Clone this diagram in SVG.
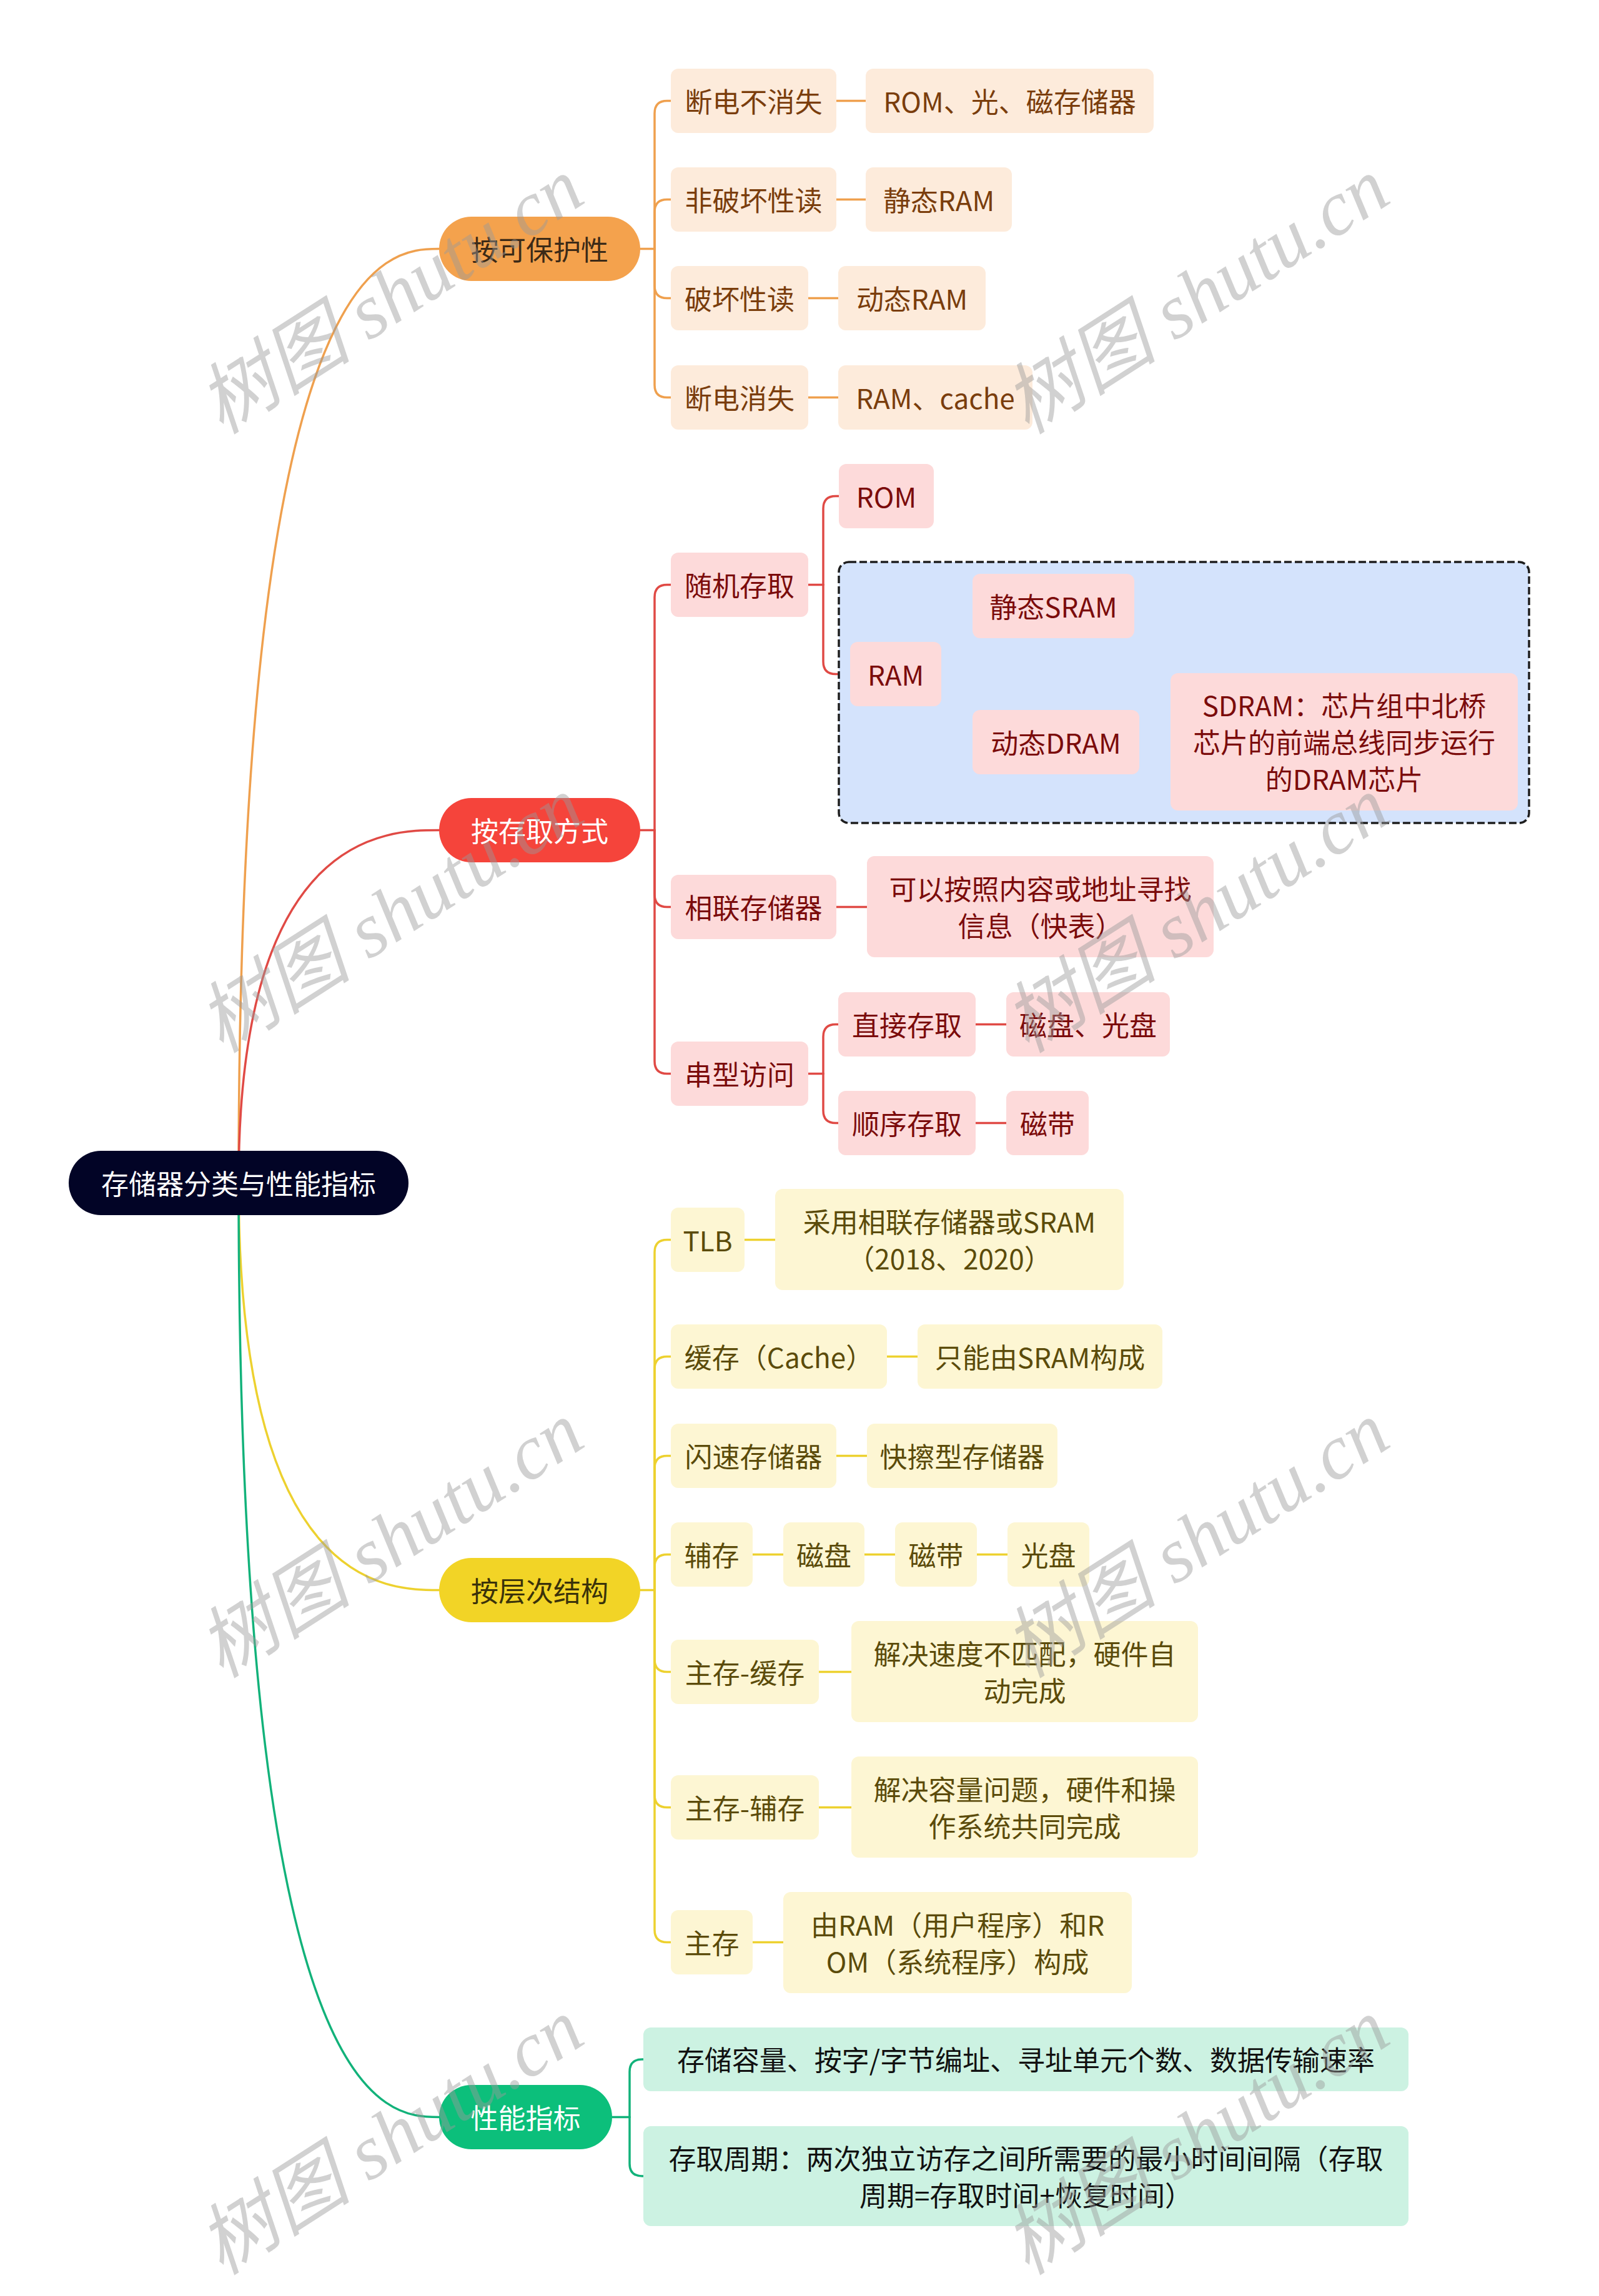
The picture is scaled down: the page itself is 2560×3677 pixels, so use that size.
<svg xmlns="http://www.w3.org/2000/svg" width="2560" height="3677" viewBox="0 0 2560 3677">
<style>
text{font-family:"Noto Sans CJK SC","Noto Sans",sans-serif;font-size:44px;text-anchor:middle;dominant-baseline:central}
.c{fill:none;stroke-width:3.5;stroke-linecap:round}
.lo{stroke:#EFA04E}.lr{stroke:#E04A45}.ly{stroke:#EDD12F}.lg{stroke:#12B27A}
.no{fill:#FDEBDB}.nr{fill:#FDDADA}.ny{fill:#FDF6D3}.ng{fill:#CCF2E2}
.to{fill:#7A3D0C}.tr{fill:#7B0B0B}.ty{fill:#5B4B0A}.tg{fill:#111111}
.wm{font-family:"Liberation Serif","Noto Sans CJK SC",serif;font-style:italic;font-size:124px;text-anchor:start;dominant-baseline:auto;fill:#9a9a9a;opacity:0.45}
</style>
<g id="connectors">
<path class="c lo" d="M382,1894 C382,398.5 620,398.5 703,398.5"/>
<path class="c lr" d="M382,1894 C382,1329.5 620,1329.5 703,1329.5"/>
<path class="c ly" d="M382,1894 C382,2546.5 620,2546.5 703,2546.5"/>
<path class="c lg" d="M382,1894 C382,3390.5 620,3390.5 703,3390.5"/>
<path class="c lo" d="M1025,398.5 H1048"/>
<path class="c lo" d="M1048,398.5 V181.5 Q1048,161.5 1068,161.5 H1074"/>
<path class="c lo" d="M1048,398.5 V339.5 Q1048,319.5 1068,319.5 H1074"/>
<path class="c lo" d="M1048,398.5 V457.5 Q1048,477.5 1068,477.5 H1074"/>
<path class="c lo" d="M1048,398.5 V616.5 Q1048,636.5 1068,636.5 H1074"/>
<path class="c lo" d="M1339,161.5 H1386 M1339,319.5 H1386 M1294,477.5 H1342 M1294,636.5 H1342"/>
<path class="c lr" d="M1025,1329.5 H1048"/>
<path class="c lr" d="M1048,1329.5 V956.5 Q1048,936.5 1068,936.5 H1074"/>
<path class="c lr" d="M1048,1329.5 V1432.5 Q1048,1452.5 1068,1452.5 H1074"/>
<path class="c lr" d="M1048,1329.5 V1699.5 Q1048,1719.5 1068,1719.5 H1074"/>
<path class="c lr" d="M1294,936.5 H1318"/>
<path class="c lr" d="M1318,936.5 V814.5 Q1318,794.5 1338,794.5 H1343"/>
<path class="c lr" d="M1318,936.5 V1059.5 Q1318,1079.5 1338,1079.5 H1361"/>
<path class="c lr" d="M1507,1079.5 H1531"/>
<path class="c lr" d="M1531,1079.5 V990.5 Q1531,970.5 1551,970.5 H1557"/>
<path class="c lr" d="M1531,1079.5 V1168.5 Q1531,1188.5 1551,1188.5 H1557"/>
<path class="c lr" d="M1824,1188.5 H1874 M1339,1452.5 H1388"/>
<path class="c lr" d="M1294,1719.5 H1318"/>
<path class="c lr" d="M1318,1719.5 V1660.5 Q1318,1640.5 1338,1640.5 H1342"/>
<path class="c lr" d="M1318,1719.5 V1778.5 Q1318,1798.5 1338,1798.5 H1342"/>
<path class="c lr" d="M1562,1640.5 H1611 M1562,1798.5 H1611"/>
<path class="c ly" d="M1025,2546.5 H1048"/>
<path class="c ly" d="M1048,2546.5 V2005.5 Q1048,1985.5 1068,1985.5 H1074"/>
<path class="c ly" d="M1048,2546.5 V2192.5 Q1048,2172.5 1068,2172.5 H1074"/>
<path class="c ly" d="M1048,2546.5 V2351.5 Q1048,2331.5 1068,2331.5 H1074"/>
<path class="c ly" d="M1048,2546.5 V2509.5 Q1048,2489.5 1068,2489.5 H1074"/>
<path class="c ly" d="M1048,2546.5 V2657.5 Q1048,2677.5 1068,2677.5 H1074"/>
<path class="c ly" d="M1048,2546.5 V2874.5 Q1048,2894.5 1068,2894.5 H1074"/>
<path class="c ly" d="M1048,2546.5 V3090.5 Q1048,3110.5 1068,3110.5 H1074"/>
<path class="c ly" d="M1192,1985.5 H1241 M1420,2172.5 H1469 M1339,2331.5 H1388 M1205,2489.5 H1254 M1384,2489.5 H1433 M1564,2489.5 H1613 M1311,2677.5 H1363 M1311,2894.5 H1363 M1205,3110.5 H1254"/>
<path class="c lg" d="M980,3390.5 H1008"/>
<path class="c lg" d="M1008,3390.5 V3318 Q1008,3298 1028,3298 H1030"/>
<path class="c lg" d="M1008,3390.5 V3465 Q1008,3485 1028,3485 H1030"/>
</g>
<g id="root"><rect x="110" y="1843" width="544" height="103" rx="51.5" fill="#020426"/><text x="382" y="1894" fill="#FFFFFF">存储器分类与性能指标</text></g>
<g id="n-protect"><rect x="703" y="347" width="322" height="103" rx="51.5" fill="#F4A24D"/><text x="864" y="398" fill="#3C2A17">按可保护性</text></g>
<g id="n-access"><rect x="703" y="1278" width="322" height="103" rx="51.5" fill="#F5443B"/><text x="864" y="1329" fill="#FFFFFF">按存取方式</text></g>
<g id="n-level"><rect x="703" y="2495" width="322" height="103" rx="51.5" fill="#F2D426"/><text x="864" y="2546" fill="#3A320A">按层次结构</text></g>
<g id="n-perf"><rect x="703" y="3339" width="277" height="103" rx="51.5" fill="#0CBF7B"/><text x="841.5" y="3390" fill="#FFFFFF">性能指标</text></g>
<g id="o1"><rect class="no" x="1074" y="110" width="265" height="103" rx="12"/><text class="to" x="1206.5" y="161">断电不消失</text></g>
<g id="o1a"><rect class="no" x="1386" y="110" width="461" height="103" rx="12"/><text class="to" x="1616.5" y="161">ROM、光、磁存储器</text></g>
<g id="o2"><rect class="no" x="1074" y="268" width="265" height="103" rx="12"/><text class="to" x="1206.5" y="319">非破坏性读</text></g>
<g id="o2a"><rect class="no" x="1386" y="268" width="234" height="103" rx="12"/><text class="to" x="1503" y="319">静态RAM</text></g>
<g id="o3"><rect class="no" x="1074" y="426" width="220" height="103" rx="12"/><text class="to" x="1184" y="477">破坏性读</text></g>
<g id="o3a"><rect class="no" x="1342" y="426" width="236" height="103" rx="12"/><text class="to" x="1460" y="477">动态RAM</text></g>
<g id="o4"><rect class="no" x="1074" y="585" width="220" height="103" rx="12"/><text class="to" x="1184" y="636">断电消失</text></g>
<g id="o4a"><rect class="no" x="1342" y="585" width="311" height="103" rx="12"/><text class="to" x="1497.5" y="636">RAM、cache</text></g>
<g id="r1"><rect class="nr" x="1074" y="885" width="220" height="103" rx="12"/><text class="tr" x="1184" y="936">随机存取</text></g>
<g id="r1a"><rect class="nr" x="1343" y="743" width="152" height="103" rx="12"/><text class="tr" x="1419" y="794">ROM</text></g>
<g id="boundary"><rect x="1343" y="900" width="1105" height="418" rx="16" fill="#D4E3FC" stroke="#1e1e1e" stroke-width="3.5" stroke-dasharray="12 5"/></g>
<g id="r1b"><rect class="nr" x="1361" y="1028" width="146" height="103" rx="12"/><text class="tr" x="1434" y="1079">RAM</text></g>
<g id="r1b1"><rect class="nr" x="1557" y="919" width="259" height="103" rx="12"/><text class="tr" x="1686.5" y="970">静态SRAM</text></g>
<g id="r1b2"><rect class="nr" x="1557" y="1137" width="267" height="103" rx="12"/><text class="tr" x="1690.5" y="1188">动态DRAM</text></g>
<g id="r1b2a"><rect class="nr" x="1874" y="1078" width="556" height="220" rx="12"/><text class="tr" x="2152"><tspan x="2152" y="1128">SDRAM：芯片组中北桥</tspan><tspan x="2152" y="1187">芯片的前端总线同步运行</tspan><tspan x="2152" y="1246">的DRAM芯片</tspan></text></g>
<g id="r2"><rect class="nr" x="1074" y="1401" width="265" height="103" rx="12"/><text class="tr" x="1206.5" y="1452">相联存储器</text></g>
<g id="r2a"><rect class="nr" x="1388" y="1371" width="555" height="162" rx="12"/><text class="tr" x="1665.5"><tspan x="1665.5" y="1422">可以按照内容或地址寻找</tspan><tspan x="1665.5" y="1481">信息（快表）</tspan></text></g>
<g id="r3"><rect class="nr" x="1074" y="1668" width="220" height="103" rx="12"/><text class="tr" x="1184" y="1719">串型访问</text></g>
<g id="r3a"><rect class="nr" x="1342" y="1589" width="220" height="103" rx="12"/><text class="tr" x="1452" y="1640">直接存取</text></g>
<g id="r3a1"><rect class="nr" x="1611" y="1589" width="262" height="103" rx="12"/><text class="tr" x="1742" y="1640">磁盘、光盘</text></g>
<g id="r3b"><rect class="nr" x="1342" y="1747" width="220" height="103" rx="12"/><text class="tr" x="1452" y="1798">顺序存取</text></g>
<g id="r3b1"><rect class="nr" x="1611" y="1747" width="132" height="103" rx="12"/><text class="tr" x="1677" y="1798">磁带</text></g>
<g id="y1"><rect class="ny" x="1074" y="1934" width="118" height="103" rx="12"/><text class="ty" x="1133" y="1985">TLB</text></g>
<g id="y1a"><rect class="ny" x="1241" y="1904" width="558" height="162" rx="12"/><text class="ty" x="1520"><tspan x="1520" y="1955">采用相联存储器或SRAM</tspan><tspan x="1520" y="2014">（2018、2020）</tspan></text></g>
<g id="y2"><rect class="ny" x="1074" y="2121" width="346" height="103" rx="12"/><text class="ty" x="1247" y="2172">缓存（Cache）</text></g>
<g id="y2a"><rect class="ny" x="1469" y="2121" width="392" height="103" rx="12"/><text class="ty" x="1665" y="2172">只能由SRAM构成</text></g>
<g id="y3"><rect class="ny" x="1074" y="2280" width="265" height="103" rx="12"/><text class="ty" x="1206.5" y="2331">闪速存储器</text></g>
<g id="y3a"><rect class="ny" x="1388" y="2280" width="305" height="103" rx="12"/><text class="ty" x="1540.5" y="2331">快擦型存储器</text></g>
<g id="y4"><rect class="ny" x="1074" y="2438" width="131" height="103" rx="12"/><text class="ty" x="1139.5" y="2489">辅存</text></g>
<g id="y4a"><rect class="ny" x="1254" y="2438" width="130" height="103" rx="12"/><text class="ty" x="1319" y="2489">磁盘</text></g>
<g id="y4b"><rect class="ny" x="1433" y="2438" width="131" height="103" rx="12"/><text class="ty" x="1498.5" y="2489">磁带</text></g>
<g id="y4c"><rect class="ny" x="1613" y="2438" width="131" height="103" rx="12"/><text class="ty" x="1678.5" y="2489">光盘</text></g>
<g id="y5"><rect class="ny" x="1074" y="2626" width="237" height="103" rx="12"/><text class="ty" x="1192.5" y="2677">主存-缓存</text></g>
<g id="y5a"><rect class="ny" x="1363" y="2596" width="555" height="162" rx="12"/><text class="ty" x="1640.5"><tspan x="1640.5" y="2647">解决速度不匹配，硬件自</tspan><tspan x="1640.5" y="2706">动完成</tspan></text></g>
<g id="y6"><rect class="ny" x="1074" y="2843" width="237" height="103" rx="12"/><text class="ty" x="1192.5" y="2894">主存-辅存</text></g>
<g id="y6a"><rect class="ny" x="1363" y="2813" width="555" height="162" rx="12"/><text class="ty" x="1640.5"><tspan x="1640.5" y="2864">解决容量问题，硬件和操</tspan><tspan x="1640.5" y="2923">作系统共同完成</tspan></text></g>
<g id="y7"><rect class="ny" x="1074" y="3059" width="131" height="103" rx="12"/><text class="ty" x="1139.5" y="3110">主存</text></g>
<g id="y7a"><rect class="ny" x="1254" y="3030" width="558" height="162" rx="12"/><text class="ty" x="1533"><tspan x="1533" y="3081">由RAM（用户程序）和R</tspan><tspan x="1533" y="3140">OM（系统程序）构成</tspan></text></g>
<g id="g1"><rect class="ng" x="1030" y="3247" width="1225" height="102" rx="12"/><text class="tg" x="1642.5" y="3297">存储容量、按字/字节编址、寻址单元个数、数据传输速率</text></g>
<g id="g2"><rect class="ng" x="1030" y="3405" width="1225" height="160" rx="12"/><text class="tg" x="1642.5"><tspan x="1642.5" y="3455">存取周期：两次独立访存之间所需要的最小时间间隔（存取</tspan><tspan x="1642.5" y="3514">周期=存取时间+恢复时间）</tspan></text></g>
<g id="watermarks">
<text class="wm" transform="translate(355,697) rotate(-32.6)">树图 shutu.cn</text>
<text class="wm" transform="translate(1645,697) rotate(-32.6)">树图 shutu.cn</text>
<text class="wm" transform="translate(355,1688) rotate(-32.6)">树图 shutu.cn</text>
<text class="wm" transform="translate(1645,1688) rotate(-32.6)">树图 shutu.cn</text>
<text class="wm" transform="translate(355,2689) rotate(-32.6)">树图 shutu.cn</text>
<text class="wm" transform="translate(1645,2689) rotate(-32.6)">树图 shutu.cn</text>
<text class="wm" transform="translate(355,3645) rotate(-32.6)">树图 shutu.cn</text>
<text class="wm" transform="translate(1645,3645) rotate(-32.6)">树图 shutu.cn</text>
</g>
</svg>
